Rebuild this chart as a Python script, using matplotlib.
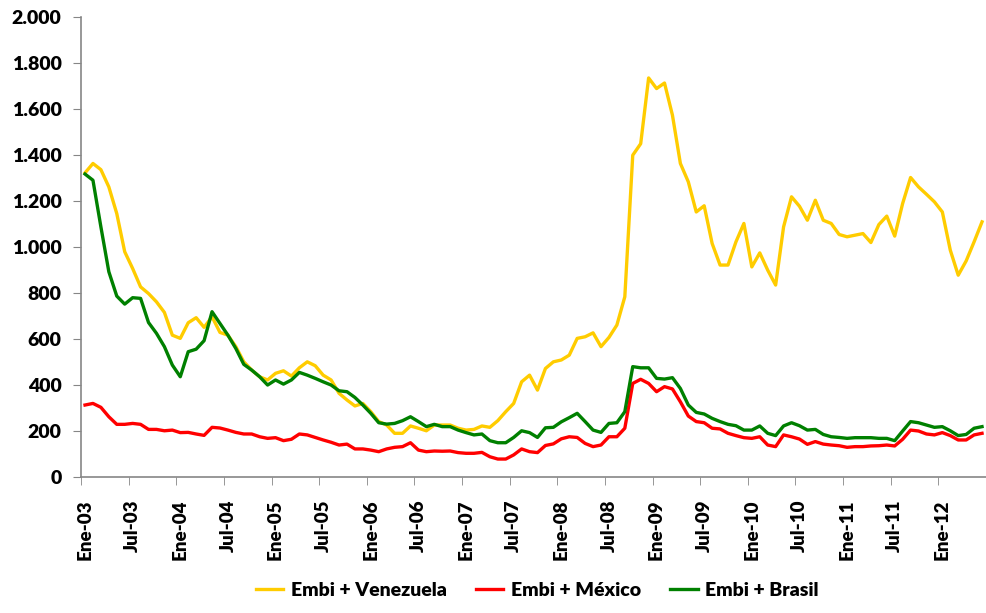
import matplotlib
matplotlib.use("Agg")
import matplotlib.pyplot as plt
import numpy as np
from matplotlib.ticker import FixedLocator, FuncFormatter

# datos mensuales Ene-03 .. Jun-12 (puntos básicos)
venezuela = [1323, 1364, 1337, 1262, 1146, 980, 907, 827, 798, 762, 716, 617, 603, 671,
             693, 651, 697, 629, 617, 567, 501, 465, 436, 422, 451, 462, 439, 475,
             501, 484, 443, 422, 364, 335, 309, 320, 284, 241, 226, 190, 190, 222,
             212, 201, 226, 226, 226, 212, 204, 207, 222, 216, 245, 284, 320, 414,
             443, 378,
             472, 501, 509, 530, 603, 610, 627, 567, 607, 661, 784, 1400, 1450, 1736,
             1690, 1714, 1574, 1364, 1284, 1153, 1180, 1016, 922, 922, 1023, 1103, 914,
             975, 900,
             835, 1088, 1219, 1178, 1117, 1204, 1117, 1103, 1055, 1045, 1052, 1059, 1020,
             1098, 1135, 1048, 1190, 1303, 1262, 1230, 1197, 1153, 987, 878, 940, 1023, 1110]
mexico = [313, 320, 303, 262, 229, 229, 233, 229, 207, 207, 201, 204, 193, 194, 187, 181,
          216, 213, 204, 194, 187, 187, 175, 168, 171, 158, 164, 187,
          183, 172, 161, 151, 139, 143, 122, 122, 117, 110, 122, 129, 132, 149, 117, 110,
          113, 112, 113, 106, 103, 103, 107, 88, 78, 78, 96, 122, 110, 106,
          137, 144, 166, 175, 172, 146, 132, 139, 175, 175, 212, 407, 425, 407, 371, 393,
          383, 327, 265, 241, 236, 212, 209, 190, 180, 171, 168, 175, 139,
          132, 183, 175, 165, 142, 154, 143, 139, 136, 129, 132, 132, 135, 136, 139, 135,
          164, 204, 200, 187, 183, 193, 180, 161, 161, 183, 190]
brasil = [1318, 1291, 1088, 893, 787, 752, 780, 777, 672, 625, 567, 487, 436, 545, 556,
          593, 719, 668, 617, 559, 490, 465, 436, 400, 422, 404, 422, 455,
          443, 429, 414, 400, 375, 371, 346, 313, 277, 236, 230, 233, 245, 262, 241, 219,
          229, 219, 219, 204, 193, 183, 187, 158, 149, 149, 172, 201, 193, 172,
          214, 216, 240, 258, 277, 241, 204, 194, 233, 236, 284, 480, 475, 475, 429, 426,
          432, 385, 313, 281, 274, 255, 241, 229, 223, 204, 204, 222, 190,
          180, 222, 236, 223, 204, 207, 185, 175, 172, 168, 171, 171, 171, 168, 168, 158,
          200, 241, 236, 226, 216, 219, 201, 180, 185, 212, 219]

meses = ['Ene', 'Feb', 'Mar', 'Abr', 'May', 'Jun', 'Jul', 'Ago', 'Sep', 'Oct', 'Nov', 'Dic']
fechas = [f"{meses[k % 12]}-{3 + k // 12:02d}" for k in range(len(venezuela))]

plt.rcParams['font.family'] = ['Lato', 'DejaVu Sans']
plt.rcParams['font.weight'] = 'heavy'

fig = plt.figure(figsize=(9.86, 6.13), dpi=100)
ax = fig.add_axes([0.0822, 0.2219, 0.9178, 0.7499])

x = np.arange(len(venezuela))
ax.plot(x, venezuela, color='#FFCC00', lw=2.4, label='Embi + Venezuela')
ax.plot(x, mexico, color='#FF0000', lw=2.4, label='Embi + México')
ax.plot(x, brasil, color='#008000', lw=2.4, label='Embi + Brasil')

ax.set_xlim(-0.5, len(x) - 0.5)
ax.set_ylim(0, 2000)
ax.set_yticks(np.arange(0, 2001, 200))
ax.yaxis.set_major_formatter(FuncFormatter(lambda v, p: f"{int(v):,}".replace(',', '.')))

idx = list(range(0, len(x), 6))
ax.xaxis.set_major_locator(FixedLocator(idx))
ax.set_xticklabels([fechas[i] for i in idx], rotation=90, fontsize=13.5, fontweight='heavy')
ax.xaxis.set_minor_locator(FixedLocator([i - 0.5 for i in idx]))
ax.tick_params(axis='x', which='major', length=0, pad=16)
ax.tick_params(axis='x', which='minor', length=6, color='#868686')
ax.tick_params(axis='y', length=6, color='#868686', labelsize=14, pad=8)
for lbl in ax.get_yticklabels():
    lbl.set_fontweight('heavy')

for s in ['top', 'right']:
    ax.spines[s].set_visible(False)
for s in ['left', 'bottom']:
    ax.spines[s].set_color('#868686')
    ax.spines[s].set_linewidth(1.2)

fig.legend(loc='lower center', bbox_to_anchor=(0.545, -0.005), ncol=3, frameon=False,
           prop={'size': 14, 'weight': 'heavy'}, handlelength=1.4, columnspacing=1.5,
           handletextpad=0.4)

fig.savefig('out.png', dpi=100)
